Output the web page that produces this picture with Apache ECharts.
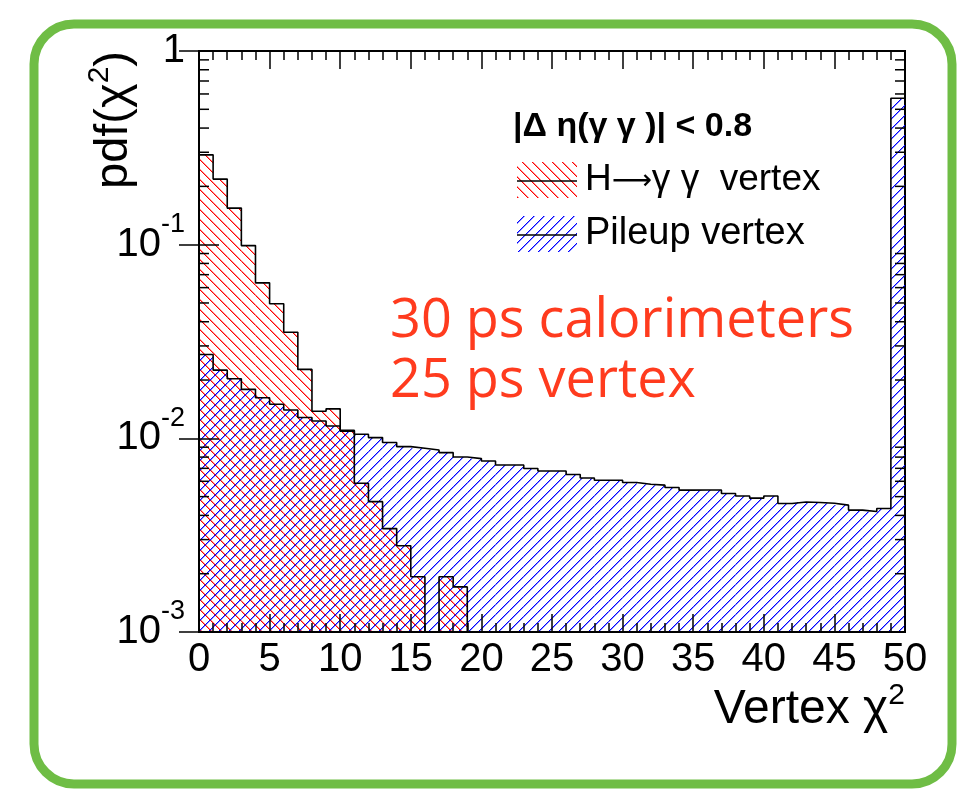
<!DOCTYPE html>
<html><head><meta charset="utf-8">
<script src="https://cdn.jsdelivr.net/npm/echarts@6/dist/echarts.min.js"></script>
<style>html,body{margin:0;padding:0;background:#fff}#c{width:963px;height:797px}</style>
</head><body><div id="c"></div>
<script>
// ---- data ----
const binLow = [0,1,2,3,4,5,6,7,8,9,10,11,12,13,14,15,16,17,18,19,20,21,22,23,24,25,26,27,28,29,30,31,32,33,34,35,36,37,38,39,40,41,42,43,44,45,46,47,48,49];
const binWidth = 1;
const higgsVertex = [0.291,0.218,0.1545,0.0989,0.0635,0.0495,0.0353,0.0227,0.0138,0.0142,
  0.0109,0.00586,0.00471,0.00342,0.00279,0.00193,0,0.00193,0.00171,0,
  0,0,0,0,0,0,0,0,0,0, 0,0,0,0,0,0,0,0,0,0, 0,0,0,0,0,0,0,0,0,0];
const pileupVertex = [0.0271,0.0225,0.0203,0.0179,0.0162,0.0150,0.0140,0.0128,0.01228,0.01157,
  0.0110,0.01049,0.01009,0.00951,0.00906,0.00888,0.00870,0.00844,0.00801,0.00786,
  0.00764,0.00728,0.00728,0.00699,0.00678,0.00678,0.00650,0.00624,0.00608,0.00608,
  0.00591,0.00579,0.00573,0.00557,0.00540,0.00541,0.00541,0.00519,0.00504,0.00491,
  0.00504,0.00461,0.00469,0.00466,0.00462,0.00452,0.00426,0.00419,0.00434,0.570];
const xTickValues = [0,5,10,15,20,25,30,35,40,45,50];
const yDecades = [0.001,0.01,0.1,1];
const yDecadeLabels = ['{b|10}{s|-3}','{b|10}{s|-2}','{b|10}{s|-1}','{b|1}'];
const minorMultipliers = [2,3,4,5,6,7,8,9];
const legendHeader = '|\u0394 \u03b7(\u03b3 \u03b3 )| < 0.8';
const legendNames = ['H\u2192\u03b3 \u03b3  vertex','Pileup vertex'];
const legendRich0 = 'H{a|\u27f6}\u03b3 \u03b3  vertex';
const annotationLines = ['30 ps calorimeters','25 ps vertex'];
const xTitle = 'Vertex \u03c7{s|2}';
const yTitle = 'pdf(\u03c7{s|2})';

const X_MIN = 0, X_MAX = 50, Y_MIN = 0.001, Y_MAX = 1;
const FONT = 'Liberation Sans, Arial, Helvetica, sans-serif';

function hatch(r, g0, b, dir, p) {
  const c = document.createElement('canvas');
  c.width = p; c.height = p;
  const g = c.getContext('2d');
  g.clearRect(0, 0, p, p);
  for (let i = 0; i < p; i++) {
    const y = dir > 0 ? (p - 1 - i) : i;
    g.fillStyle = 'rgba(' + r + ',' + g0 + ',' + b + ',1)';
    g.fillRect(i, y, 1, 1);
    g.fillStyle = 'rgba(' + r + ',' + g0 + ',' + b + ',0.45)';
    g.fillRect((i + 1) % p, y, 1, 1);
  }
  return { image: c, repeat: 'repeat' };
}
const redPat = hatch(255, 0, 0, -1, 10);
const bluePat = hatch(0, 0, 255, 1, 10);

const yMinorTicks = [];
yDecades.slice(0, 3).forEach(d => minorMultipliers.forEach(m => yMinorTicks.push(d * m)));

function fillSeries(name, values, pat) {
  return {
    type: 'custom', name, z: 2, silent: true,
    xAxisIndex: 0, yAxisIndex: 0,
    data: binLow.map((x, i) => [x, values[i]]).filter(d => d[1] > 0),
    renderItem: function (params, api) {
      const x0 = api.value(0), v = api.value(1);
      const a = api.coord([x0, v]);
      const b = api.coord([x0 + binWidth, Y_MIN]);
      return { type: 'rect', shape: { x: a[0], y: a[1], width: b[0] - a[0], height: b[1] - a[1] }, style: { fill: pat } };
    }
  };
}
function outlineSeries(name, values) {
  const pts = binLow.map((x, i) => [x, Math.max(values[i], Y_MIN)]);
  pts.push([X_MAX, Math.max(values[values.length - 1], Y_MIN)]);
  return {
    type: 'line', name, step: 'end', z: 3, silent: true, symbol: 'none',
    xAxisIndex: 0, yAxisIndex: 0,
    lineStyle: { color: '#000', width: 1.6 },
    data: pts
  };
}

const axisCommonX = {
  type: 'value', min: X_MIN, max: X_MAX, interval: 5, z: 10,
  axisLine: { show: true, lineStyle: { color: '#000', width: 2 } },
  axisTick: { show: true, inside: true, length: 18, lineStyle: { color: '#000', width: 1.5 } },
  minorTick: { show: true, splitNumber: 5, length: 9, lineStyle: { color: '#000', width: 1.5 } },
  splitLine: { show: false }, minorSplitLine: { show: false }
};
const axisCommonY = {
  type: 'log', logBase: 10, min: Y_MIN, max: Y_MAX, z: 10,
  axisLine: { show: true, lineStyle: { color: '#000', width: 2 } },
  axisTick: { show: true, inside: true, length: 20, lineStyle: { color: '#000', width: 1.5 } },
  splitLine: { show: false }
};

const option = {
  animation: false,
  backgroundColor: '#fff',
  grid: { left: 199, top: 51, width: 706, height: 581, show: true, borderColor: '#000', borderWidth: 2, backgroundColor: 'transparent' },
  xAxis: [
    Object.assign({}, axisCommonX, {
      position: 'bottom',
      axisLabel: { color: '#000', fontSize: 40, fontFamily: FONT, margin: 8,
        formatter: v => xTickValues.indexOf(v) >= 0 ? String(v) : '' }
    }),
    Object.assign({}, axisCommonX, { position: 'top', axisLabel: { show: false } })
  ],
  yAxis: [
    Object.assign({}, axisCommonY, {
      position: 'left',
      axisLabel: {
        margin: 14, color: '#000',
        formatter: v => {
          const e = Math.round(Math.log10(v));
          const i = yDecades.findIndex(d => Math.round(Math.log10(d)) === e);
          return i >= 0 ? yDecadeLabels[i] : '';
        },
        rich: {
          b: { fontSize: 40, fontFamily: FONT, color: '#000' },
          s: { fontSize: 27, fontFamily: FONT, color: '#000', padding: [0, 0, 40, 0] }
        }
      }
    }),
    Object.assign({}, axisCommonY, { position: 'right', axisLabel: { show: false } })
  ],
  series: [
    fillSeries('H vertex fill', higgsVertex, redPat),
    fillSeries('Pileup fill', pileupVertex, bluePat),
    outlineSeries(legendNames[0], higgsVertex),
    outlineSeries(legendNames[1], pileupVertex),
    {
      type: 'custom', name: 'log minor ticks', z: 11, silent: true,
      xAxisIndex: 0, yAxisIndex: 0,
      data: yMinorTicks.map(v => [X_MIN, v]),
      renderItem: function (params, api) {
        const v = api.value(1);
        const L = api.coord([X_MIN, v]);
        const R = api.coord([X_MAX, v]);
        const st = { stroke: '#000', lineWidth: 1.5 };
        return { type: 'group', children: [
          { type: 'line', shape: { x1: L[0], y1: L[1], x2: L[0] + 10, y2: L[1] }, style: st },
          { type: 'line', shape: { x1: R[0], y1: R[1], x2: R[0] - 10, y2: R[1] }, style: st }
        ] };
      }
    }
  ],
  graphic: [
    { type: 'rect', shape: { x: 34, y: 24, width: 918, height: 760, r: 40 }, style: { fill: 'none', stroke: '#6fbd45', lineWidth: 9 }, z: 0 },
    { type: 'text', x: 114, y: 120, rotation: Math.PI / 2,
      style: { text: yTitle, font: '47px ' + FONT, fill: '#000', align: 'center', verticalAlign: 'middle',
        rich: { s: { fontSize: 30, fontFamily: FONT, padding: [0, 0, 28, 0] } } } },
    { type: 'text', x: 905, y: 710,
      style: { text: xTitle, font: '48px ' + FONT, fill: '#000', align: 'right', verticalAlign: 'middle',
        rich: { s: { fontSize: 30, fontFamily: FONT, padding: [0, 0, 28, 0] } } } },
    { type: 'text', x: 513, y: 127, style: { text: legendHeader, font: 'bold 34px ' + FONT, fill: '#000', align: 'left', verticalAlign: 'middle' } },
    { type: 'rect', shape: { x: 517, y: 162, width: 60, height: 36 }, style: { fill: redPat } },
    { type: 'line', shape: { x1: 517, y1: 181, x2: 577, y2: 181 }, style: { stroke: '#000', lineWidth: 1.6 } },
    { type: 'text', x: 585, y: 180, style: { text: legendRich0, font: '37px ' + FONT, fill: '#000', align: 'left', verticalAlign: 'middle',
        rich: { a: { fontSize: 28, fontFamily: 'DejaVu Sans', padding: [4, 0, 0, 0] } } } },
    { type: 'rect', shape: { x: 517, y: 216, width: 60, height: 36 }, style: { fill: bluePat } },
    { type: 'line', shape: { x1: 517, y1: 235, x2: 577, y2: 235 }, style: { stroke: '#000', lineWidth: 1.6 } },
    { type: 'text', x: 585, y: 234, style: { text: legendNames[1], font: '38px ' + FONT, fill: '#000', align: 'left', verticalAlign: 'middle' } },
    { type: 'text', x: 390, y: 322, style: { text: annotationLines[0], font: '54px "Open Sans", sans-serif', fill: '#ff3b1e', align: 'left', verticalAlign: 'middle' } },
    { type: 'text', x: 390, y: 382, style: { text: annotationLines[1], font: '54px "Open Sans", sans-serif', fill: '#ff3b1e', align: 'left', verticalAlign: 'middle' } }
  ]
};
const chart = echarts.init(document.getElementById('c'), null, { renderer: 'canvas' });
chart.setOption(option);
</script>
</body></html>
